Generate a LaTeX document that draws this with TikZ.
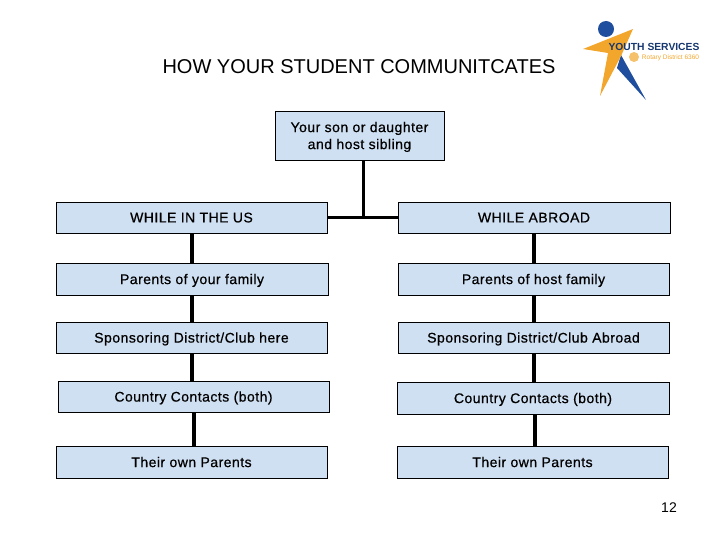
\documentclass[tikz,border=0pt]{standalone}
\usepackage{fontspec}
\setmainfont{Liberation Sans}
\usepackage{tikz}
\definecolor{boxblue}{HTML}{CFE0F2}
\definecolor{logoblue}{HTML}{1F4E9E}
\definecolor{logoorange}{HTML}{F2A62C}
\tikzset{
  box/.style={draw=black,fill=boxblue,line width=0.8pt,inner sep=0pt,text depth=0pt,font=\fontsize{14}{17}\selectfont\addfontfeature{LetterSpace=3.4,FakeBold=0.6},align=center},
  link/.style={line width=3.2pt},
}
\begin{document}
\begin{tikzpicture}[x=1pt,y=-1pt]
                      \useasboundingbox (0,0) rectangle (720,540);
                      \node (Title) at (359,67) {\fontsize{20}{24}\selectfont HOW YOUR STUDENT COMMUNITCATES};
                      \node[box,minimum width=169pt,minimum height=49pt] (Root) at (359.5,135.5) {Your son or daughter\\and host sibling};
                      \coordinate (Fork) at (363.5,216);
                      % left column
                      \node[box,minimum width=271pt,minimum height=31pt] (L1) at (191.5,217.5) {WHILE IN THE US};
                      \node[box,minimum width=272pt,minimum height=32pt] (L2) at (192,279) {Parents of your family};
                      \node[box,minimum width=271pt,minimum height=31pt] (L3) at (191.5,337.5) {Sponsoring District/Club here};
                      \node[box,minimum width=271pt,minimum height=31pt] (L4) at (193.5,396.5) {Country Contacts (both)};
                      \node[box,minimum width=271pt,minimum height=32pt] (L5) at (191.5,462) {Their own Parents};
                      % right column
                      \node[box,minimum width=272pt,minimum height=31pt] (R1) at (534,217.5) {WHILE ABROAD};
                      \node[box,minimum width=271pt,minimum height=32pt] (R2) at (533.5,279) {Parents of host family};
                      \node[box,minimum width=271pt,minimum height=31pt] (R3) at (533.5,337.5) {Sponsoring District/Club Abroad};
                      \node[box,minimum width=272pt,minimum height=32pt] (R4) at (533,398) {Country Contacts (both)};
                      \node[box,minimum width=271pt,minimum height=32pt] (R5) at (532.5,462) {Their own Parents};
                      \path[link] (Root.south -| Fork) edge (Fork);
                      \path[link] (L1) edge (R1);
                      \path[link] (L1.south -| 192,0) edge (L2.north -| 192,0)
                      (L2.south -| 192,0) edge (L3.north -| 192,0)
                      (L3.south -| 192,0) edge (L4.north -| 192,0)
                      (L4.south -| 194,0) edge (L5.north -| 194,0);
                      \path[link] (R1.south -| 534,0) edge (R2.north -| 534,0)
                      (R2.south -| 534,0) edge (R3.north -| 534,0)
                      (R3.south -| 534,0) edge (R4.north -| 534,0)
                      (R4.south -| 535,0) edge (R5.north -| 535,0);
                      % logo
                      \fill[logoblue] (606,29) circle (8);
                      \fill[logoblue] (621,55) -- (646,100) -- (617,68) -- cycle;
                      \fill[logoorange] (633,29) -- (583,49) -- (608,53) -- (600,96) -- (621,56) -- cycle;
                      \fill[logoorange!70!white] (634,57) circle (5);
                      \node[font=\fontsize{10.3}{12}\selectfont\bfseries,text=logoblue!70!black,inner sep=0pt] (Logo) at (654,47) {YOUTH SERVICES};
                      \node[font=\fontsize{6.5}{8}\selectfont,text=logoorange,inner sep=0pt] (Rotary) at (670.5,57.5) {Rotary District 6360};
                      \node[font=\fontsize{14}{16}\selectfont] (Page) at (669,508) {12};
                    \end{tikzpicture}
\end{document}
